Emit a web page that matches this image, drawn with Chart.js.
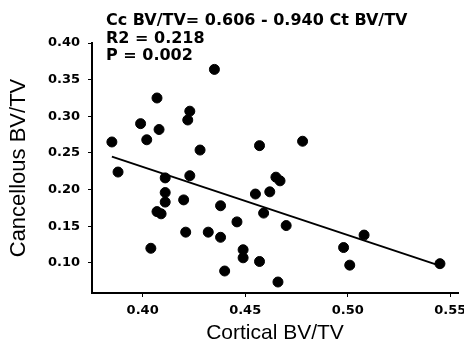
<!DOCTYPE html>
<html>
<head>
<meta charset="utf-8">
<script src="https://cdn.jsdelivr.net/npm/chart.js@4"></script>
<style>
  html, body { margin: 0; padding: 0; background: #fff; }
  #wrap { width: 464px; height: 350px; }
</style>
</head>
<body>
<div id="wrap"><canvas id="bvtv"></canvas></div>
<script>
// cortical vs cancellous BV/TV
const corticalBV = [0.385, 0.388, 0.407, 0.399, 0.402, 0.408, 0.435, 0.423, 0.422, 0.428,
    0.411, 0.423, 0.411, 0.411, 0.420, 0.407, 0.409, 0.404, 0.421, 0.432,
    0.438, 0.438, 0.446, 0.440, 0.449, 0.449, 0.457, 0.457, 0.455, 0.478,
    0.465, 0.467, 0.462, 0.459, 0.470, 0.466, 0.498, 0.501, 0.508, 0.545];
const cancellousBV = [0.265, 0.224, 0.325, 0.290, 0.268, 0.282, 0.364, 0.307, 0.295, 0.254,
    0.216, 0.219, 0.196, 0.183, 0.186, 0.170, 0.167, 0.120, 0.142, 0.142,
    0.178, 0.135, 0.156, 0.089, 0.118, 0.107, 0.102, 0.260, 0.194, 0.266,
    0.217, 0.212, 0.197, 0.168, 0.151, 0.074, 0.121, 0.097, 0.138, 0.099];
// regression line ends
const fitX = [0.385, 0.543];
const fitY = [0.245, 0.098];

const xTicks = [0.40, 0.45, 0.50, 0.55];
const yTicks = [0.10, 0.15, 0.20, 0.25, 0.30, 0.35, 0.40];

const statLines = ["Cc BV/TV= 0.606 - 0.940 Ct BV/TV", "R2 = 0.218", "P = 0.002"];

const points = corticalBV.map((x, i) => ({ x: x, y: cancellousBV[i] }));
const fitLine = fitX.map((x, i) => ({ x: x, y: fitY[i] }));

const statsText = {
    id: "statsText",
    afterDraw(chart) {
        const ctx = chart.ctx;
        ctx.save();
        ctx.fillStyle = "#000";
        ctx.font = 'bold 16px "DejaVu Sans"';
        ctx.textBaseline = "alphabetic";
        statLines.forEach((t, i) => ctx.fillText(t, 106, 25 + i * 17.5));
        ctx.restore();
    }
};

const tickFont = { family: "DejaVu Sans", size: 13, weight: "bold" };

new Chart(document.getElementById("bvtv").getContext("2d"), {
    type: "scatter",
    data: {
        datasets: [
            {
                data: points,
                backgroundColor: "#000",
                borderColor: "#000",
                pointRadius: 5,
                pointHoverRadius: 5,
            },
            {
                type: "line",
                data: fitLine,
                borderColor: "#000",
                borderWidth: 2,
                pointRadius: 0,
                fill: false,
            },
        ],
    },
    options: {
        responsive: true,
        maintainAspectRatio: false,
        animation: false,
        layout: { padding: { top: 43, right: 6, left: 0, bottom: 0 } },
        plugins: {
            legend: { display: false },
            tooltip: { enabled: false },
        },
        scales: {
            x: {
                type: "linear",
                min: 0.3753,
                max: 0.5538,
                afterBuildTicks: (s) => { s.ticks = xTicks.map((v) => ({ value: v })); },
                afterFit: (s) => { s.height = 57; s.paddingLeft = 0; s.paddingRight = 0; },
                grid: { drawOnChartArea: false, tickLength: 4, color: "#000", lineWidth: 1 },
                border: { color: "#000", width: 2 },
                ticks: { color: "#000", font: tickFont, padding: 6, maxRotation: 0,
                    callback: (v) => v.toFixed(2) },
                title: { display: true, text: "Cortical BV/TV", color: "#000",
                    font: { family: "Liberation Sans", size: 21 },
                    padding: { top: 0, bottom: 4 } },
            },
            y: {
                type: "linear",
                min: 0.059,
                max: 0.40,
                afterBuildTicks: (s) => { s.ticks = yTicks.map((v) => ({ value: v })); },
                afterFit: (s) => { s.width = 92; s.paddingTop = 0; s.paddingBottom = 0; },
                grid: { drawOnChartArea: false, tickLength: 4, color: "#000", lineWidth: 1 },
                border: { color: "#000", width: 2 },
                ticks: { color: "#000", font: tickFont, padding: 8,
                    callback: (v) => v.toFixed(2) },
                title: { display: true, text: "Cancellous BV/TV", color: "#000",
                    font: { family: "Liberation Sans", size: 22 },
                    padding: { top: 6, bottom: 0 } },
            },
        },
    },
    plugins: [statsText],
});
</script>
</body>
</html>
